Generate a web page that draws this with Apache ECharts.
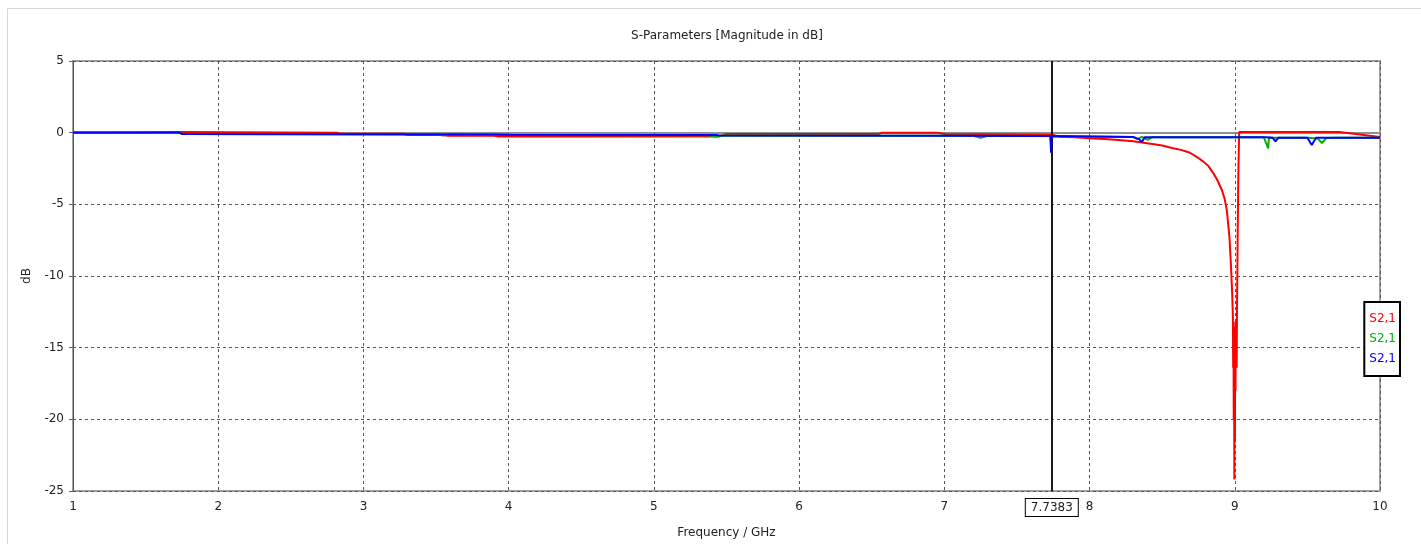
<!DOCTYPE html>
<html>
<head>
<meta charset="utf-8">
<script src="https://cdn.jsdelivr.net/npm/echarts@6/dist/echarts.min.js"></script>
<style>
html,body{margin:0;padding:0;background:#fff;}
#chart{width:1421px;height:544px;}
</style>
</head>
<body>
<div id="chart"></div>
<script>
// ---- data ----
const xTicks = [1, 2, 3, 4, 5, 6, 7, 8, 9, 10];
const yTicks = [5, 0, -5, -10, -15, -20, -25];
const seriesNames = ['S2,1', 'S2,1', 'S2,1'];
const markerFreq = 7.7383;

const redFreq = [1.0, 1.23, 1.24, 1.73, 1.74, 2.82, 2.84, 3.28, 3.3, 3.55, 3.58, 3.9, 3.92, 5.45, 5.5, 6.55, 6.57, 6.95, 7.0, 7.74, 7.8, 7.9, 8.0, 8.1, 8.2, 8.3, 8.42, 8.5, 8.575, 8.63, 8.692, 8.74, 8.784, 8.82, 8.853, 8.88, 8.911, 8.93, 8.945, 8.963, 8.973, 8.982, 8.987, 8.989, 8.991, 8.993, 8.995, 8.997, 8.999, 9.001, 9.003, 9.005, 9.007, 9.009, 9.011, 9.013, 9.015, 9.02, 9.024, 9.03, 9.66, 9.72, 10.0];
const redDb   = [0.0, 0.0, 0.05, 0.05, 0.02, 0.0, -0.08, -0.08, -0.16, -0.16, -0.22, -0.22, -0.26, -0.26, -0.09, -0.09, 0.0, 0.0, -0.1, -0.15, -0.28, -0.32, -0.39, -0.45, -0.52, -0.6, -0.78, -0.9, -1.09, -1.2, -1.4, -1.7, -2.02, -2.35, -2.84, -3.3, -4.0, -4.6, -5.4, -7.26, -9.1, -11.2, -12.8, -16.4, -13.2, -20.0, -14.0, -24.2, -15.0, -21.5, -13.5, -18.0, -13.2, -16.4, -13.0, -16.4, -12.8, -7.1, -3.3, 0.05, 0.05, 0.05, -0.3];

const greenFreq = [1.0, 1.73, 1.75, 3.5, 3.55, 3.6, 4.0, 5.38, 5.42, 5.46, 7.2, 7.25, 7.3, 7.73, 7.735, 7.74, 8.3, 8.33, 8.36, 8.4, 8.43, 9.2, 9.23, 9.235, 9.5, 9.57, 9.6, 9.63, 9.7, 10.0];
const greenDb   = [0.02, 0.02, -0.1, -0.12, -0.2, -0.12, -0.16, -0.18, -0.27, -0.2, -0.22, -0.35, -0.22, -0.23, -0.7, -0.25, -0.3, -0.45, -0.3, -0.5, -0.32, -0.32, -1.1, -0.35, -0.35, -0.4, -0.72, -0.38, -0.35, -0.35];

const blueFreq = [1.0, 1.73, 1.75, 3.9, 4.0, 5.43, 5.45, 7.0, 7.73, 7.735, 7.74, 7.745, 8.3, 8.34, 8.36, 8.38, 9.22, 9.26, 9.28, 9.3, 9.5, 9.53, 9.56, 10.0];
const blueDb   = [0.02, 0.02, -0.09, -0.12, -0.15, -0.16, -0.2, -0.22, -0.23, -1.4, -0.23, -0.28, -0.3, -0.45, -0.65, -0.32, -0.32, -0.35, -0.6, -0.35, -0.35, -0.86, -0.36, -0.35];

function pairs(xs, ys){ return xs.map((x,i)=>[x, ys[i]]); }

const FONT = 'DejaVu Sans';
const chart = echarts.init(document.getElementById('chart'), null, {renderer:'canvas'});

const option = {
  animation: false,
  backgroundColor: '#fff',
  textStyle: {fontFamily: FONT},
  title: {
    text: 'S-Parameters [Magnitude in dB]',
    left: 722, textAlign: 'center', top: 25,
    textStyle: {fontFamily: FONT, fontSize: 12, fontWeight: 'normal', color: '#222'}
  },
  graphic: [{
    type: 'rect', left: 5, top: 6, silent: true,
    shape: {x: 0, y: 0, width: 1440, height: 600},
    style: {fill: 'none', stroke: '#d6d6d6', lineWidth: 1}
  }],
  legend: {
    orient: 'vertical',
    right: 21, top: 302,
    icon: 'none', itemWidth: 0, itemHeight: 12, itemGap: 8,
    padding: [11, 4, 11, 0],
    borderColor: '#000', borderWidth: 2,
    backgroundColor: '#fff',
    selectedMode: false,
    formatter: function(name){ return name.split('#')[0]; },
    textStyle: {fontFamily: FONT, fontSize: 12},
    data: [
      {name: seriesNames[0] + '#r', textStyle: {color: '#ff0000'}},
      {name: seriesNames[1] + '#g', textStyle: {color: '#00b000'}},
      {name: seriesNames[2] + '#b', textStyle: {color: '#0000ff'}}
    ]
  },
  grid: {
    left: 73, right: 41, top: 61, bottom: 53,
    show: true, borderColor: '#a0a0a0', borderWidth: 2, backgroundColor: '#fff'
  },
  xAxis: {
    type: 'value', min: xTicks[0], max: xTicks[xTicks.length-1], interval: 1,
    name: 'Frequency / GHz', nameLocation: 'middle', nameGap: 36,
    nameTextStyle: {fontFamily: FONT, fontSize: 12, color: '#222'},
    axisLine: {show: true, lineStyle: {color: '#909090', width: 2}},
    axisTick: {show: true, length: 4, lineStyle: {color: '#666'}},
    axisLabel: {fontFamily: FONT, fontSize: 12, color: '#222', margin: 10,
      formatter: v => xTicks.includes(v) ? String(v) : ''},
    splitLine: {show: true, lineStyle: {color: '#555', type: [3, 3], width: 1}}
  },
  yAxis: {
    type: 'value', min: yTicks[yTicks.length-1], max: yTicks[0], interval: 5,
    name: 'dB', nameLocation: 'middle', nameGap: 40, nameRotate: 90,
    nameTextStyle: {fontFamily: FONT, fontSize: 12, color: '#222'},
    axisLine: {show: true, lineStyle: {color: '#555', width: 1}},
    axisTick: {show: true, length: 4, lineStyle: {color: '#666'}},
    axisLabel: {fontFamily: FONT, fontSize: 12, color: '#222', margin: 9,
      formatter: v => yTicks.includes(v) ? String(v) : ''},
    splitLine: {show: true, lineStyle: {color: '#555', type: [3, 3], width: 1}}
  },
  series: [
    {
      name: seriesNames[0] + '#r', type: 'line', data: pairs(redFreq, redDb),
      showSymbol: false, symbol: 'none', color: '#ff0000',
      lineStyle: {color: '#ff0000', width: 2}, z: 3
    },
    {
      name: seriesNames[1] + '#g', type: 'line', data: pairs(greenFreq, greenDb),
      showSymbol: false, symbol: 'none', color: '#00b000',
      lineStyle: {color: '#00b000', width: 2}, z: 4
    },
    {
      name: seriesNames[2] + '#b', type: 'line', data: pairs(blueFreq, blueDb),
      showSymbol: false, symbol: 'none', color: '#0000ff',
      lineStyle: {color: '#0000ff', width: 2}, z: 5,
      markLine: {
        silent: true, symbol: 'none', animation: false,
        lineStyle: {color: '#1a1a1a', width: 2, type: 'solid'},
        label: {
          show: true, position: 'start', distance: 8,
          formatter: String(markerFreq),
          fontFamily: FONT, fontSize: 12, color: '#222',
          backgroundColor: '#fff', borderColor: '#000', borderWidth: 1,
          padding: [3, 5, 2, 5]
        },
        data: [{xAxis: markerFreq}]
      }
    }
  ]
};
chart.setOption(option);
</script>
</body>
</html>
